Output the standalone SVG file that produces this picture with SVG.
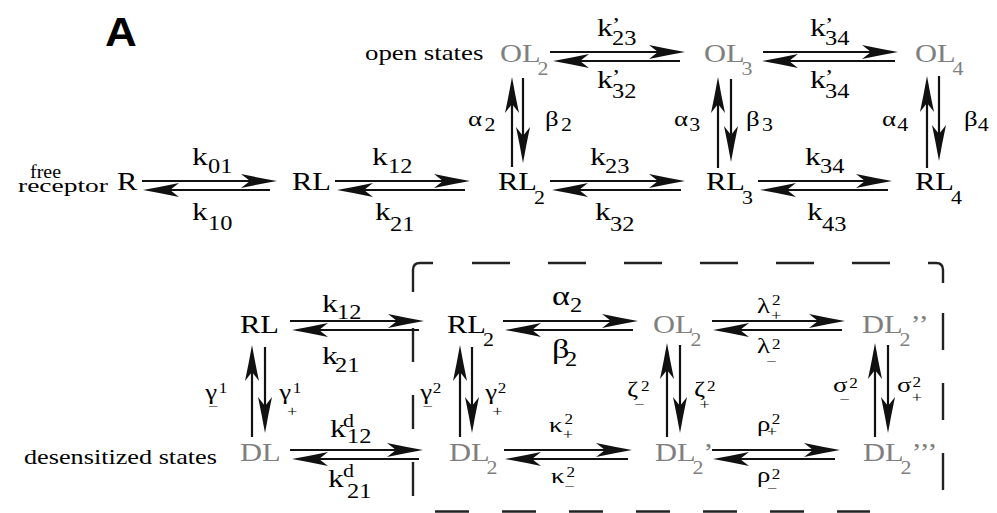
<svg xmlns="http://www.w3.org/2000/svg" width="997" height="513" viewBox="0 0 997 513">
  <style>
    text { font-family: "Liberation Serif", "Times New Roman", serif; fill: #000;
           transform-box: fill-box; transform-origin: 0 0; transform: scaleX(1.22); }
    .title { font-family: "Liberation Sans", Arial, sans-serif; font-weight: bold; font-size: 40px; transform: scaleX(1.1); }
    .n  { font-size: 25px; }
    .ns { font-size: 18px; }
    .g  { fill: #7f7f7f; }
    .cap { font-size: 22px; }
    .plain { transform: none; font-size: 18px; }
    .k  { font-size: 26px; }
    .ks { font-size: 20px; }
    .kp { font-size: 20px; }
    .gr { font-size: 22px; }
    .gd { font-size: 18px; }
    .ga { font-size: 28px; }
    .gs { font-size: 22px; }
    .sc { font-size: 14px; }
    .sm { font-size: 15px; }
    .arr line { stroke: #111; stroke-width: 2.2; fill: none; marker-end: url(#head); }
    .box { stroke: #222; stroke-width: 2.4; fill: none; }
  </style>
  <defs>
    <marker id="head" viewBox="-40 -8 42 16" markerWidth="42" markerHeight="16" refX="-8" refY="0"
            orient="auto" markerUnits="userSpaceOnUse" overflow="visible">
      <path d="M0,0 Q-18,-3.2 -36,-7 L-27,0 L-36,7 Q-18,3.2 0,0 Z" fill="#111"/>
    </marker>
  </defs>
  <rect width="997" height="513" fill="#fff"/>

  <!-- panel letter and side captions -->
  <g id="caption">
    <text class="title" x="105" y="46">A</text>
    <text class="cap" x="365" y="60">open states</text>
    <text class="plain" x="30" y="178" textLength="31" lengthAdjust="spacingAndGlyphs">free</text>
    <text class="plain" x="18" y="192" textLength="90" lengthAdjust="spacingAndGlyphs">receptor</text>
    <text class="cap" x="24" y="464" style="font-size:21.5px">desensitized states</text>
  </g>

  <!-- dashed enclosure of the doubly-liganded states -->
  <g id="dashed-box">
    <path class="box" d="M413,292 V270 Q413,263 420,263 H433"/>
    <path class="box" d="M472,263 H928" stroke-dasharray="38 38"/>
    <path class="box" d="M928,263 H936 Q943,263 943,270 V283"/>
    <path class="box" d="M943,313 V492" stroke-dasharray="37 33"/>
    <path class="box" d="M413,328 V500" stroke-dasharray="34 33"/>
    <path class="box" d="M435,511.5 H870" stroke-dasharray="34 33"/>
  </g>

  <!-- reaction arrows -->
  <g id="connectors" class="arr">
    <!-- R / RL / RL2 / RL3 / RL4 -->
    <line x1="142" y1="181" x2="269" y2="181"/><line x1="270" y1="190" x2="151" y2="190"/>
    <line x1="335" y1="181" x2="462" y2="181"/><line x1="465" y1="190" x2="345" y2="190"/>
    <line x1="550" y1="181" x2="677" y2="181"/><line x1="681" y1="190" x2="560" y2="190"/>
    <line x1="758" y1="181" x2="884" y2="181"/><line x1="888" y1="190" x2="768" y2="190"/>
    <!-- open states -->
    <line x1="550" y1="52" x2="677" y2="52"/><line x1="680" y1="61" x2="561" y2="61"/>
    <line x1="763" y1="52" x2="890" y2="52"/><line x1="895" y1="61" x2="770" y2="61"/>
    <!-- opening / closing -->
    <line x1="512" y1="167" x2="512" y2="85"/><line x1="523" y1="78" x2="523" y2="155"/>
    <line x1="718" y1="168" x2="718" y2="85"/><line x1="731" y1="79" x2="731" y2="154"/>
    <line x1="927" y1="168" x2="927" y2="84"/><line x1="939" y1="76" x2="939" y2="153"/>
    <!-- lower scheme, upper row -->
    <line x1="290" y1="321" x2="416" y2="321"/><line x1="419" y1="330" x2="300" y2="330"/>
    <line x1="503" y1="321" x2="630" y2="321"/><line x1="633" y1="330" x2="513" y2="330"/>
    <line x1="712" y1="321" x2="837" y2="321"/><line x1="842" y1="330" x2="721" y2="330"/>
    <!-- lower scheme, desensitized row -->
    <line x1="290" y1="450" x2="415" y2="450"/><line x1="419" y1="459" x2="300" y2="459"/>
    <line x1="504" y1="450" x2="624" y2="450"/><line x1="628" y1="459" x2="513" y2="459"/>
    <line x1="712" y1="450" x2="832" y2="450"/><line x1="835" y1="459" x2="721" y2="459"/>
    <!-- lower scheme, vertical transitions -->
    <line x1="252" y1="437" x2="252" y2="353"/><line x1="265" y1="347" x2="265" y2="425"/>
    <line x1="460" y1="437" x2="460" y2="353"/><line x1="472" y1="347" x2="472" y2="425"/>
    <line x1="667" y1="437" x2="667" y2="351"/><line x1="680" y1="345" x2="680" y2="425"/>
    <line x1="875" y1="437" x2="875" y2="351"/><line x1="888" y1="345" x2="888" y2="425"/>
  </g>

  <!-- states -->
  <g id="node-R"><text class="n" x="117" y="190">R</text></g>
  <g id="node-RL"><text class="n" x="292" y="190">RL</text></g>
  <g id="node-RL2"><text class="n" x="498" y="190">RL<tspan class="ns" x="527.5" y="204">2</tspan></text></g>
  <g id="node-RL3"><text class="n" x="706" y="190">RL<tspan class="ns" x="735.5" y="204">3</tspan></text></g>
  <g id="node-RL4"><text class="n" x="915" y="190">RL<tspan class="ns" x="944.5" y="204">4</tspan></text></g>
  <g id="node-OL2"><text class="n g" x="500" y="62">OL<tspan class="ns" x="530.8" y="75">2</tspan></text></g>
  <g id="node-OL3"><text class="n g" x="704" y="62">OL<tspan class="ns" x="734.8" y="75">3</tspan></text></g>
  <g id="node-OL4"><text class="n g" x="915" y="62">OL<tspan class="ns" x="945.8" y="75">4</tspan></text></g>

  <g id="node-RL-b"><text class="n" x="240" y="333">RL</text></g>
  <g id="node-RL2-b"><text class="n" x="447" y="333">RL<tspan class="ns" x="476.5" y="346">2</tspan></text></g>
  <g id="node-OL2-b"><text class="n g" x="653" y="333">OL<tspan class="ns" x="683.8" y="346">2</tspan></text></g>
  <g id="node-DL2pp"><text class="n g" x="862" y="333">DL<tspan class="ns" x="892.8" y="346">2</tspan><tspan x="901.8" y="333">’’</tspan></text></g>
  <g id="node-DL"><text class="n g" x="240" y="461">DL</text></g>
  <g id="node-DL2"><text class="n g" x="449" y="461">DL<tspan class="ns" x="479.8" y="474">2</tspan></text></g>
  <g id="node-DL2p"><text class="n g" x="655" y="461">DL<tspan class="ns" x="685.8" y="474">2</tspan><tspan x="694.5" y="461">’</tspan></text></g>
  <g id="node-DL2ppp"><text class="n g" x="863" y="461">DL<tspan class="ns" x="893.8" y="474">2</tspan><tspan x="902.8" y="461">’’’</tspan></text></g>

  <!-- rate constants -->
  <g id="rates">
    <text class="k" x="597" y="36">k<tspan class="kp" x="609.3" y="32">’</tspan><tspan class="ks" x="609.3" y="45">23</tspan></text>
    <text class="k" x="597" y="88">k<tspan class="kp" x="609.3" y="84">’</tspan><tspan class="ks" x="609.3" y="98">32</tspan></text>
    <text class="k" x="810" y="36">k<tspan class="kp" x="822.3" y="32">’</tspan><tspan class="ks" x="822.3" y="45">34</tspan></text>
    <text class="k" x="810" y="88">k<tspan class="kp" x="822.3" y="84">’</tspan><tspan class="ks" x="822.3" y="98">34</tspan></text>

    <text class="k" x="192" y="165">k<tspan class="ks" x="205.1" y="173">01</tspan></text>
    <text class="k" x="192" y="220">k<tspan class="ks" x="205.1" y="230">10</tspan></text>
    <text class="k" x="372" y="165">k<tspan class="ks" x="385.1" y="173">12</tspan></text>
    <text class="k" x="375" y="220">k<tspan class="ks" x="387.3" y="231">21</tspan></text>
    <text class="k" x="590" y="165">k<tspan class="ks" x="602.3" y="173">23</tspan></text>
    <text class="k" x="595" y="220">k<tspan class="ks" x="607.3" y="231">32</tspan></text>
    <text class="k" x="805" y="165">k<tspan class="ks" x="817.3" y="173">34</tspan></text>
    <text class="k" x="807" y="220">k<tspan class="ks" x="819.3" y="231">43</tspan></text>

    <text class="gr" x="468" y="126">α<tspan class="gd" dx="2" y="131">2</tspan></text>
    <text class="gr" x="545" y="126">β<tspan class="gd" dx="2" y="131">2</tspan></text>
    <text class="gr" x="674" y="126">α<tspan class="gd" dx="1" y="131">3</tspan></text>
    <text class="gr" x="746" y="126">β<tspan class="gd" dx="2" y="131">3</tspan></text>
    <text class="gr" x="882" y="126">α<tspan class="gd" dx="1" y="131">4</tspan></text>
    <text class="gr" x="964" y="126">β<tspan class="gd" y="131">4</tspan></text>

    <text class="k" x="322" y="312">k<tspan class="ks" x="334.3" y="319">12</tspan></text>
    <text class="k" x="322" y="364">k<tspan class="ks" x="332.7" y="372">21</tspan></text>
    <text class="k" x="330" y="437">k<tspan class="gd" x="340.7" y="427">d</tspan><tspan class="ks" x="343.9" y="443">12</tspan></text>
    <text class="k" x="328" y="487">k<tspan class="gd" x="340.3" y="477">d</tspan><tspan class="ks" x="343.6" y="498">21</tspan></text>

    <text class="ga" x="552" y="305">α<tspan class="ks" x="566.8" y="312">2</tspan></text>
    <text class="ga" x="552" y="358">β<tspan class="ks" x="562.7" y="366">2</tspan></text>

    <text class="gs" x="757" y="313">λ<tspan class="sc" x="769.3" y="305">2</tspan><tspan class="sm" x="768.5" y="320">+</tspan></text>
    <text class="gs" x="757" y="353">λ<tspan class="sc" x="769.3" y="349">2</tspan><tspan class="sm" x="764.4" y="366">−</tspan></text>

    <text class="gs" x="205" y="399">γ<tspan class="sc" x="216.2" y="393">1</tspan><tspan class="sm" x="207.1" y="411">−</tspan></text>
    <text class="gs" x="279" y="399">γ<tspan class="sc" x="290.2" y="393">1</tspan><tspan class="sm" x="285.5" y="416">+</tspan></text>
    <text class="gs" x="420" y="399">γ<tspan class="sc" x="430.3" y="393">2</tspan><tspan class="sm" x="421.6" y="411">−</tspan></text>
    <text class="gs" x="485" y="399">γ<tspan class="sc" x="495.3" y="393">2</tspan><tspan class="sm" x="490.7" y="416">+</tspan></text>
    <text class="gs" x="627" y="396">ζ<tspan class="sc" x="638.5" y="391">2</tspan><tspan class="sm" x="632.7" y="409">−</tspan></text>
    <text class="gs" x="694" y="396">ζ<tspan class="sc" x="704.7" y="391">2</tspan><tspan class="sm" x="698.6" y="409">+</tspan></text>
    <text class="gs" x="833" y="392">σ<tspan class="sc" x="846.3" y="388">2</tspan><tspan class="sm" x="838.1" y="404">−</tspan></text>
    <text class="gs" x="897" y="392">σ<tspan class="sc" x="909.8" y="387">2</tspan><tspan class="sm" x="909" y="402">+</tspan></text>

    <text class="gs" x="549" y="432">κ<tspan class="sc" x="561.8" y="424">2</tspan><tspan class="sm" x="560.2" y="439">+</tspan></text>
    <text class="gs" x="551" y="483">κ<tspan class="sc" x="563.8" y="477">2</tspan><tspan class="sm" x="561.8" y="491">−</tspan></text>
    <text class="gs" x="757" y="431">ρ<tspan class="sc" x="769" y="424">2</tspan><tspan class="sm" x="764.9" y="436">+</tspan></text>
    <text class="gs" x="757" y="482">ρ<tspan class="sc" x="769" y="479">2</tspan><tspan class="sm" x="764.9" y="493">−</tspan></text>
  </g>
</svg>
